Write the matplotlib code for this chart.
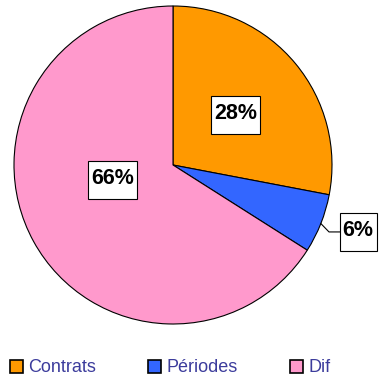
import matplotlib
matplotlib.use("Agg")
import matplotlib.pyplot as plt
from matplotlib.patches import Patch, Rectangle
import numpy as np

categories = ["Contrats", "Périodes", "Dif"]
values = [28, 6, 66]
labels = ["28%", "6%", "66%"]
colors = ["#FF9900", "#3366FF", "#FF99CC"]

W, H = 379, 380
fig = plt.figure(figsize=(W / 100, H / 100), dpi=100)
cx, cy, r = 173, 165, 159
ax = fig.add_axes([(cx - r) / W, (H - cy - r) / H, 2 * r / W, 2 * r / H])

wedges, _ = ax.pie(values, colors=colors, startangle=90, counterclock=False,
                   radius=1, wedgeprops=dict(edgecolor="black", linewidth=0.8))
ax.set_xlim(-1, 1)
ax.set_ylim(-1, 1)
ax.set_aspect("auto")
ax.axis("off")

font = dict(family="Liberation Sans", fontsize=15.5, fontweight="bold")
renderer = fig.canvas.get_renderer()
px = 1.0 / r  # one pixel in axis units


def boxed_label(x, y, s):
    t = ax.text(x, y + 1.2 * px, s, ha="center", va="center", zorder=5,
                clip_on=False, **font)
    bb = t.get_window_extent(renderer)
    bw = (bb.width + 6) * px
    bh = 38 * px
    ax.add_patch(Rectangle((x - bw / 2, y - bh / 2), bw, bh, facecolor="white",
                           edgecolor="black", linewidth=0.8, zorder=4, clip_on=False))


# label anchors in axis units
inside = {0: (0.396, 0.314), 2: (-0.380, -0.094)}
for i, (x, y) in inside.items():
    boxed_label(x, y, labels[i])

# outside label with leader line for the small slice
w = wedges[1]
mid = np.deg2rad((w.theta1 + w.theta2) / 2)
ex, ey = np.cos(mid), np.sin(mid)
lx, ly = 1.164, -0.421
ax.plot([ex, (329 - cx) / r, (340 - cx) / r], [ey, ly, ly], color="black",
        linewidth=0.8, clip_on=False)
boxed_label(lx, ly, labels[1])

handles = [Patch(facecolor=c, edgecolor="black", linewidth=1.2) for c in colors]
fig.legend(handles, categories, loc="center left", bbox_to_anchor=(10 / W, 1 - 368 / H),
           ncol=3, frameon=False, borderpad=0, borderaxespad=0,
           handlelength=0.7, handleheight=0.7, handletextpad=0.3, columnspacing=2.9,
           labelcolor="#3C3C9C", prop=dict(family="Liberation Sans", size=13))

fig.savefig("out.png", dpi=100)
